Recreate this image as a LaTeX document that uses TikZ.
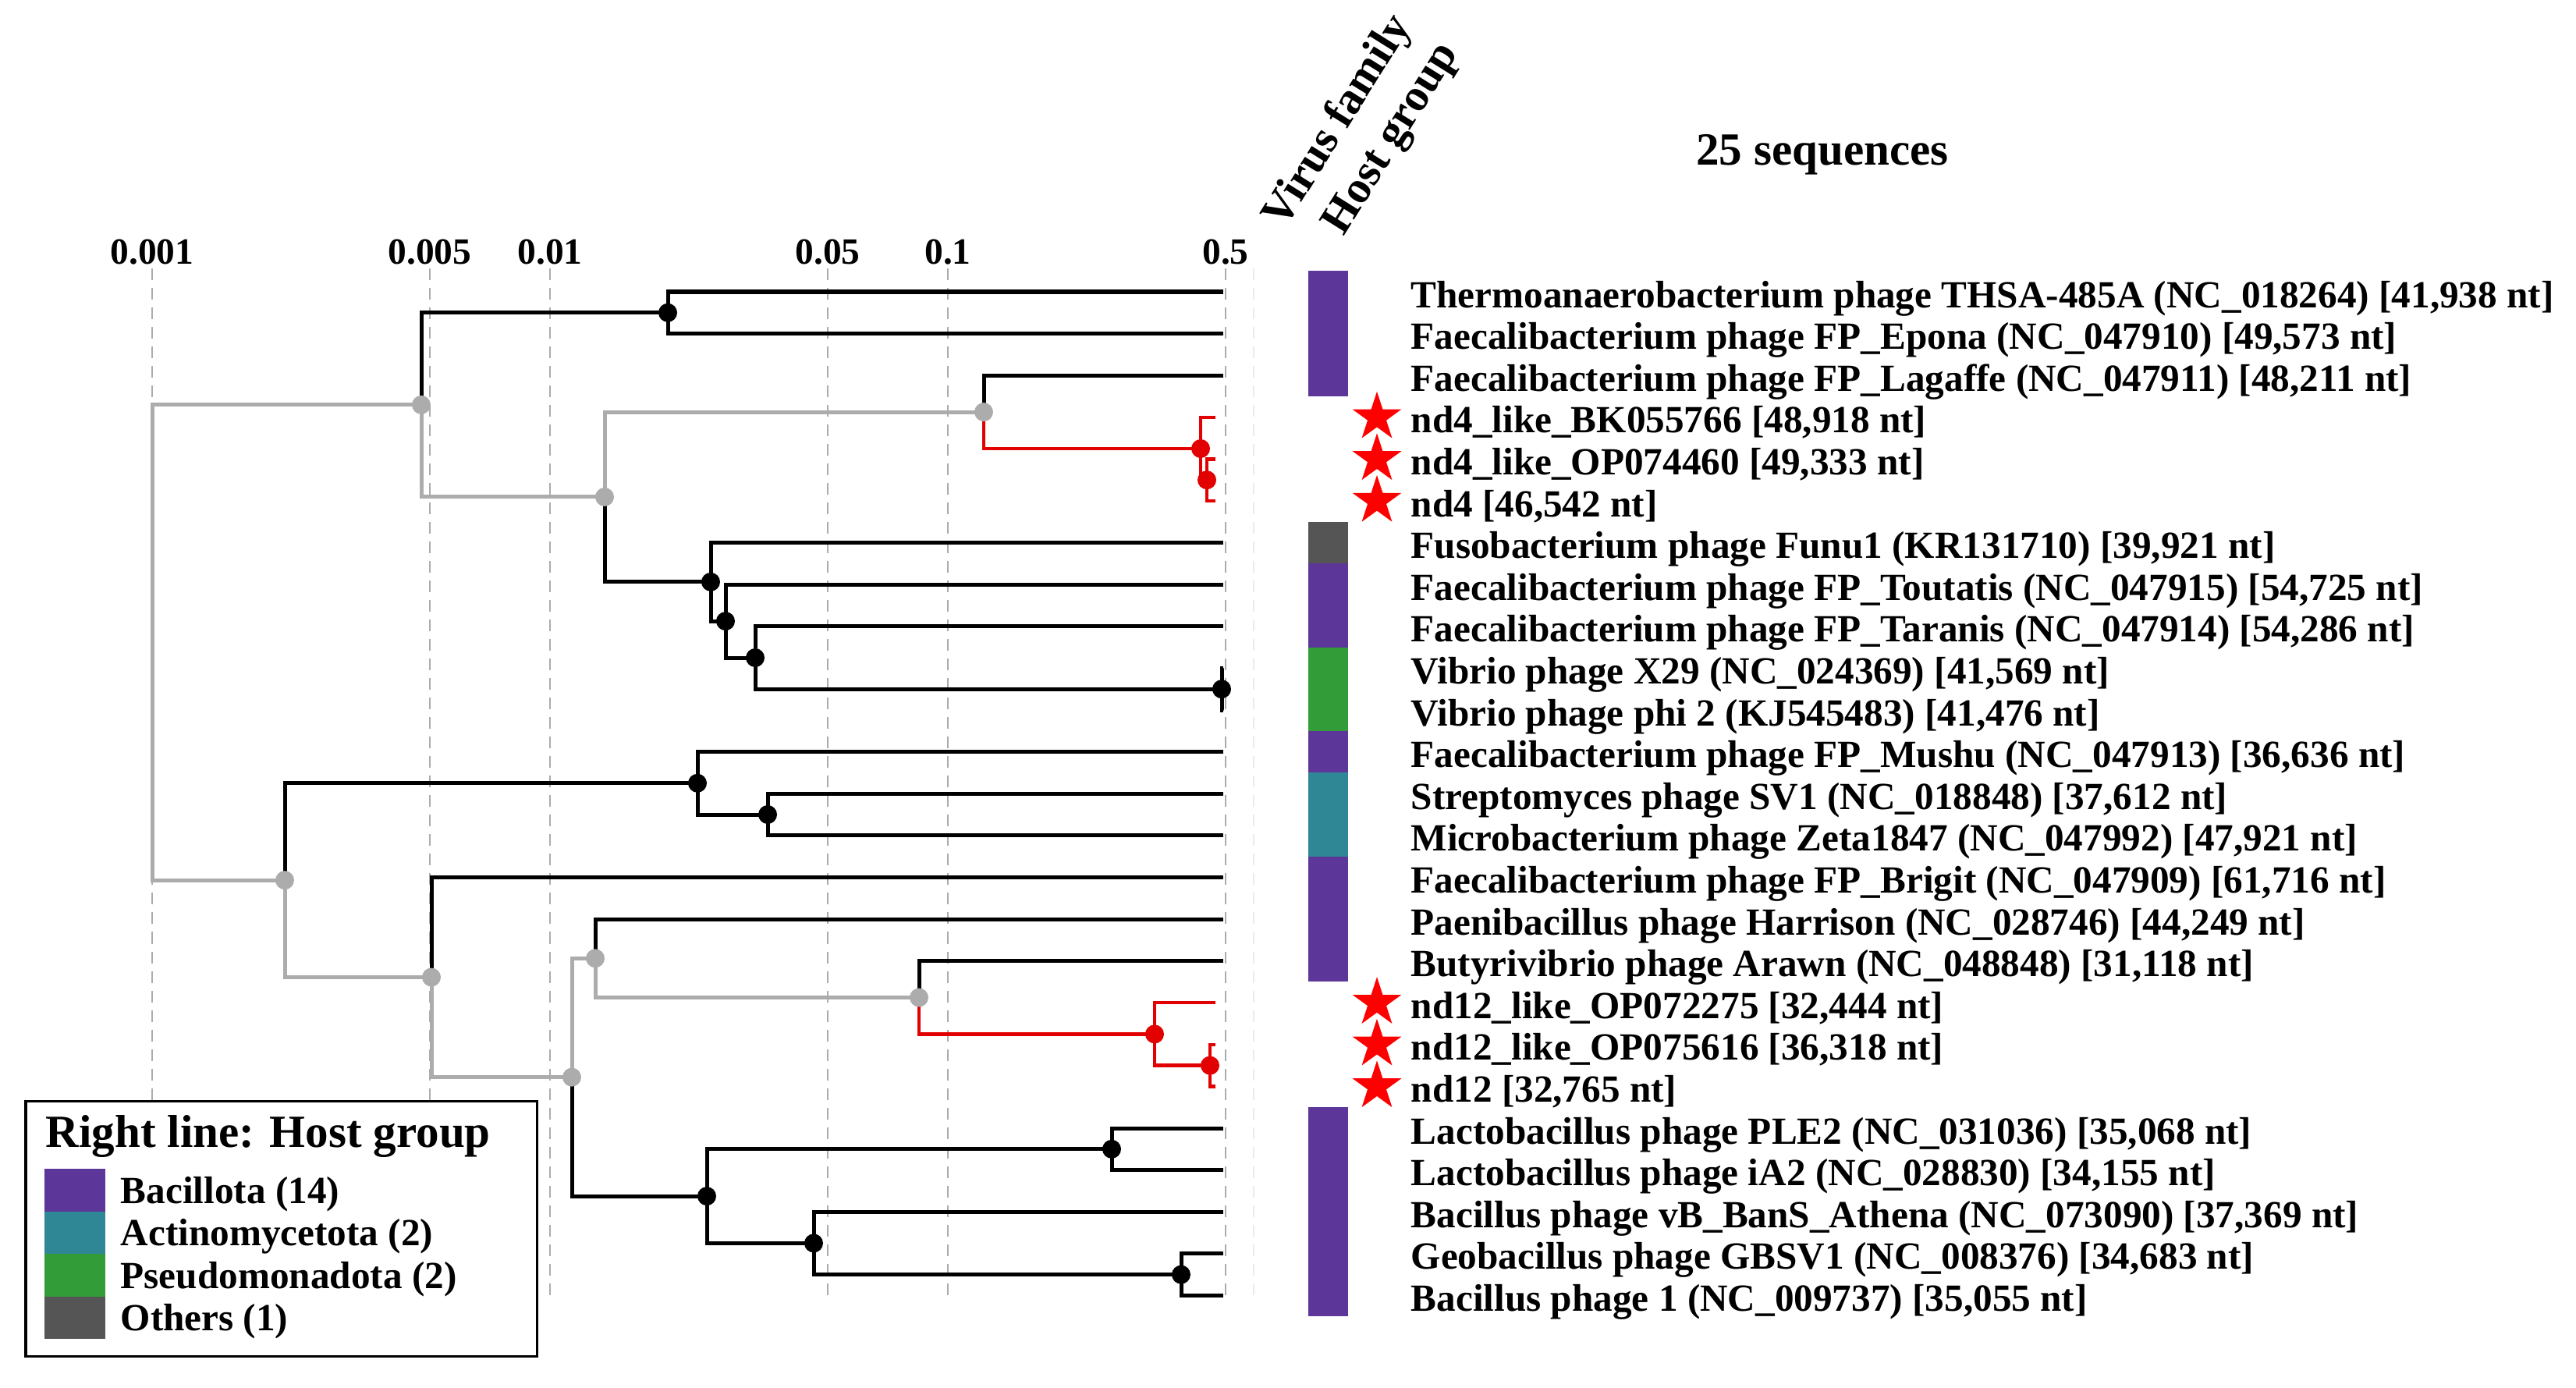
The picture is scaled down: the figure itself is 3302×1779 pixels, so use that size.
\documentclass[tikz,border=0pt]{standalone}
\usepackage{fontspec}
\setmainfont{Liberation Serif}
\usepackage{tikz}
\usetikzlibrary{shapes.geometric, calc, positioning}

\definecolor{bacillota}{RGB}{92,54,152}
\definecolor{actino}{RGB}{47,134,149}
\definecolor{pseudo}{RGB}{50,156,56}
\definecolor{others}{RGB}{85,85,85}
\definecolor{nhanhxam}{RGB}{172,172,172}
\definecolor{nhanhdo}{RGB}{226,0,0}

\newcommand{\rowy}[1]{374+(#1-1)*53.6}

\begin{document}
\begin{tikzpicture}[x=0.01cm, y=-0.01cm,
    nhanh/.style={line width=0.05cm, black},
    nhanhx/.style={line width=0.05cm, nhanhxam},
    nhanhd/.style={line width=0.045cm, nhanhdo},
    luoi/.style={nhanhxam, line width=0.02cm, dash pattern=on 0.15cm off 0.1cm},
    diem/.style={circle, inner sep=0pt, minimum size=0.24cm},
    sao/.style={star, star points=5, star point ratio=2.618, fill=red, inner sep=0pt, minimum size=0.66cm},
    nhan/.style={anchor=base west, inner sep=0pt, font=\fontsize{14}{16}\selectfont\bfseries}]

        \useasboundingbox (0,0) rectangle (3302,1779);

        % Vẽ thang đo và lưới
        \foreach \xv/\lab [count=\j] in {195/0.001, 551/0.005, 705/0.01, 1061/0.05, 1215/0.1, 1571/0.5}{
            \draw[luoi] (\xv,344) -- (\xv,1669);
            \node[anchor=base, inner sep=0pt, font=\fontsize{13.5}{15}\selectfont\bfseries] (thang\j) at (\xv,339) {\lab};
        }
        \draw[black!8, line width=0.02cm, dash pattern=on 0.15cm off 0.1cm] (1607,344) -- (1607,1669); % Cột Virus family

        % Các lá của cây
        \foreach \i in {1,...,25} \coordinate (t\i) at (1568,{\rowy{\i}});
        \foreach \i in {4,5,6,18,19,20} \coordinate (t\i) at (1558,{\rowy{\i}});

        % Các nút trong
        \coordinate (root) at (195,{\rowy{9.39}});
        \coordinate (nA) at (540,{\rowy{3.703}});
        \coordinate (nB) at (856,{\rowy{1.5}});
        \coordinate (nC) at (775,{\rowy{5.906}});
        \coordinate (nD) at (1261,{\rowy{3.875}});
        \coordinate (nE) at (1539,{\rowy{4.75}});
        \coordinate (nF) at (1547,{\rowy{5.5}});
        \coordinate (nG) at (911,{\rowy{7.9375}});
        \coordinate (nH) at (930,{\rowy{8.875}});
        \coordinate (nI) at (968,{\rowy{9.75}});
        \coordinate (nJ) at (1566,{\rowy{10.5}});
        \coordinate (nK) at (365,{\rowy{15.07}});
        \coordinate (nL) at (894,{\rowy{12.75}});
        \coordinate (nM) at (984,{\rowy{13.5}});
        \coordinate (nN) at (553,{\rowy{17.39}});
        \coordinate (nO) at (733,{\rowy{19.78}});
        \coordinate (nP) at (763,{\rowy{16.9375}});
        \coordinate (nQ) at (1178,{\rowy{17.875}});
        \coordinate (nR) at (1480,{\rowy{18.75}});
        \coordinate (nS) at (1551,{\rowy{19.5}});
        \coordinate (nT) at (906,{\rowy{22.625}});
        \coordinate (nU) at (1425,{\rowy{21.5}});
        \coordinate (nV) at (1043,{\rowy{23.75}});
        \coordinate (nW) at (1514,{\rowy{24.5}});

        % Vẽ các nhánh
        \draw[nhanhx] (root) |- (nA) (root) |- (nK);
        \draw[nhanh] (nA) |- (nB);
        \draw[nhanhx] (nA) |- (nC);
        \draw[nhanh] (nB) |- (t1) (nB) |- (t2);
        \draw[nhanhx] (nC) |- (nD);
        \draw[nhanh] (nC) |- (nG);
        \draw[nhanh] (nD) |- (t3);
        \draw[nhanhd] (nD) |- (nE);
        \draw[nhanhd] (nE) |- (t4) (nE) |- (nF);
        \draw[nhanhd] (nF) |- (t5) (nF) |- (t6);
        \draw[nhanh] (nG) |- (t7) (nG) |- (nH);
        \draw[nhanh] (nH) |- (t8) (nH) |- (nI);
        \draw[nhanh] (nI) |- (t9) (nI) |- (nJ);
        \draw[nhanh] (nJ) |- (t10) (nJ) |- (t11);
        \draw[nhanh] (nK) |- (nL);
        \draw[nhanhx] (nK) |- (nN);
        \draw[nhanh] (nL) |- (t12) (nL) |- (nM);
        \draw[nhanh] (nM) |- (t13) (nM) |- (t14);
        \draw[nhanh] (nN) |- (t15);
        \draw[nhanhx] (nN) |- (nO);
        \draw[nhanhx] (nO) |- (nP);
        \draw[nhanh] (nO) |- (nT);
        \draw[nhanh] (nP) |- (t16);
        \draw[nhanhx] (nP) |- (nQ);
        \draw[nhanh] (nQ) |- (t17);
        \draw[nhanhd] (nQ) |- (nR);
        \draw[nhanhd] (nR) |- (t18) (nR) |- (nS);
        \draw[nhanhd] (nS) |- (t19) (nS) |- (t20);
        \draw[nhanh] (nT) |- (nU) (nT) |- (nV);
        \draw[nhanh] (nU) |- (t21) (nU) |- (t22);
        \draw[nhanh] (nV) |- (t23) (nV) |- (nW);
        \draw[nhanh] (nW) |- (t24) (nW) |- (t25);

        % Đánh dấu các nút
        \foreach \n in {nB,nG,nH,nI,nJ,nL,nM,nT,nU,nV,nW} \node[diem, fill=black] (d\n) at (\n) {};
        \foreach \n in {nA,nC,nD,nK,nN,nO,nP,nQ} \node[diem, fill=nhanhxam] (d\n) at (\n) {};
        \foreach \n in {nE,nF,nR,nS} \node[diem, fill=nhanhdo] (d\n) at (\n) {};

        % Dải màu nhóm vật chủ
        \foreach \a/\b/\c in {1/3/bacillota, 7/7/others, 8/9/bacillota, 10/11/pseudo, 12/12/bacillota, 13/14/actino, 15/17/bacillota, 21/25/bacillota}
            \fill[\c] (1677,{\rowy{\a}-26.8}) rectangle (1728,{\rowy{\b}+26.8});

        % Ngôi sao cho các trình tự mới
        \foreach \i in {4,5,6,18,19,20} \node[sao] (sao\i) at (1765,{\rowy{\i}}) {};

        % Tên các trình tự
        \foreach \i/\txt in {
            1/{Thermoanaerobacterium phage THSA-485A (NC\_018264) [41,938 nt]},
            2/{Faecalibacterium phage FP\_Epona (NC\_047910) [49,573 nt]},
            3/{Faecalibacterium phage FP\_Lagaffe (NC\_047911) [48,211 nt]},
            4/{nd4\_like\_BK055766 [48,918 nt]},
            5/{nd4\_like\_OP074460 [49,333 nt]},
            6/{nd4 [46,542 nt]},
            7/{Fusobacterium phage Funu1 (KR131710) [39,921 nt]},
            8/{Faecalibacterium phage FP\_Toutatis (NC\_047915) [54,725 nt]},
            9/{Faecalibacterium phage FP\_Taranis (NC\_047914) [54,286 nt]},
            10/{Vibrio phage X29 (NC\_024369) [41,569 nt]},
            11/{Vibrio phage phi 2 (KJ545483) [41,476 nt]},
            12/{Faecalibacterium phage FP\_Mushu (NC\_047913) [36,636 nt]},
            13/{Streptomyces phage SV1 (NC\_018848) [37,612 nt]},
            14/{Microbacterium phage Zeta1847 (NC\_047992) [47,921 nt]},
            15/{Faecalibacterium phage FP\_Brigit (NC\_047909) [61,716 nt]},
            16/{Paenibacillus phage Harrison (NC\_028746) [44,249 nt]},
            17/{Butyrivibrio phage Arawn (NC\_048848) [31,118 nt]},
            18/{nd12\_like\_OP072275 [32,444 nt]},
            19/{nd12\_like\_OP075616 [36,318 nt]},
            20/{nd12 [32,765 nt]},
            21/{Lactobacillus phage PLE2 (NC\_031036) [35,068 nt]},
            22/{Lactobacillus phage iA2 (NC\_028830) [34,155 nt]},
            23/{Bacillus phage vB\_BanS\_Athena (NC\_073090) [37,369 nt]},
            24/{Geobacillus phage GBSV1 (NC\_008376) [34,683 nt]},
            25/{Bacillus phage 1 (NC\_009737) [35,055 nt]}}
            \node[nhan] (ten\i) at (1808,{\rowy{\i}+20}) {\txt};

        % Tiêu đề
        \node[anchor=base, font=\fontsize{16.8}{19}\selectfont\bfseries] (tieude) at (2336,212) {25 sequences};
        \node[anchor=base west, rotate=58, inner sep=0pt, font=\fontsize{16.5}{19}\selectfont\bfseries] (cot1) at (1646,295) {Virus family};
        \node[anchor=base west, rotate=58, inner sep=0pt, font=\fontsize{16.5}{19}\selectfont\bfseries] (cot2) at (1722,304) {Host group};

        % Chú thích
        \draw[line width=0.03cm, fill=white] (33,1411) rectangle (688,1738);
        \node[anchor=base west, inner sep=0pt, font=\fontsize{16.8}{19}\selectfont\bfseries] (chuthich) at (58,1470) {Right line: Host group};
        \foreach \k/\c/\t [count=\j] in {0/bacillota/{Bacillota (14)}, 1/actino/{Actinomycetota (2)}, 2/pseudo/{Pseudomonadota (2)}, 3/others/{Others (1)}}{
            \fill[\c] (57,{1498+\k*54.5}) rectangle (135,{1552.5+\k*54.5});
            \node[nhan] (muc\j) at (154,{1542+\k*54.5}) {\t};
        }

\end{tikzpicture}
\end{document}
